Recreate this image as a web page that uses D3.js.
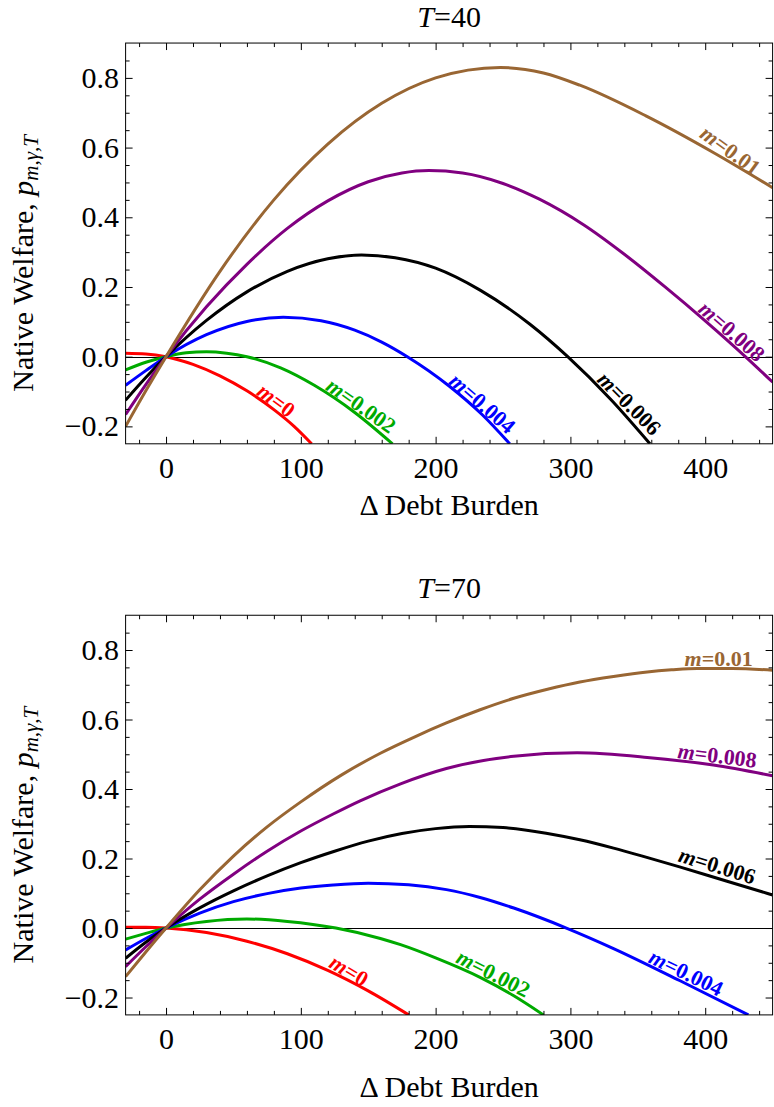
<!DOCTYPE html>
<html><head><meta charset="utf-8">
<script src="https://cdn.jsdelivr.net/npm/d3@7"></script>
<style>
html,body{margin:0;padding:0;background:#fff;}
svg{display:block;}
text{font-family:"Liberation Serif","Times New Roman",serif;fill:#000;}
</style></head><body>
<svg id="chart" width="774" height="1107"></svg>
<script>
// ---------- data ----------
const xDomain = [-30, 450];
const yDomain = [-0.25, 0.9];
const xMajorTicks = [0, 100, 200, 300, 400];
const xMinorTicks = [-20, 20, 40, 60, 80, 120, 140, 160, 180, 220, 240, 260, 280, 320, 340, 360, 380, 420, 440];
const yMajorTicks = [-0.2, 0, 0.2, 0.4, 0.6, 0.8];
const yMajorLabels = ["\u22120.2", "0.0", "0.2", "0.4", "0.6", "0.8"];
const yMinorTicks = [-0.15, -0.1, -0.05, 0.05, 0.1, 0.15, 0.25, 0.3, 0.35, 0.45, 0.5, 0.55, 0.65, 0.7, 0.75, 0.85];
const mLabels = ["0", "0.002", "0.004", "0.006", "0.008", "0.01"];
const panelTitles = ["40", "70"];
const xAxisTitle = "\u0394 Debt Burden";
const yAxisTitle = "Native Welfare, ";

// T = 40
const T40_m0    = [[-30,0.010],[-15,0.008],[0,0],[20,-0.022],[40,-0.055],[60,-0.098],[80,-0.152],[95,-0.200],[108,-0.25]];
const T40_m002  = [[-30,-0.038],[-15,-0.016],[0,0],[15,0.011],[30,0.014],[45,0.010],[60,0],[85,-0.032],[110,-0.082],[140,-0.160],[168,-0.25]];
const T40_m004  = [[-30,-0.082],[-15,-0.040],[0,0],[30,0.063],[60,0.101],[87,0.113],[115,0.103],[140,0.076],[160,0.042],[179,0],[210,-0.084],[235,-0.168],[255,-0.25]];
const T40_m006  = [[-30,-0.125],[-15,-0.060],[0,0],[30,0.104],[60,0.186],[90,0.245],[120,0.281],[145,0.292],[170,0.284],[200,0.254],[233,0.191],[270,0.093],[298,0],[330,-0.123],[359,-0.25]];
const T40_m008  = [[-30,-0.166],[-15,-0.080],[0,0],[30,0.143],[60,0.265],[90,0.368],[120,0.447],[150,0.502],[175,0.527],[195,0.534],[220,0.527],[250,0.497],[277,0.452],[310,0.378],[340,0.294],[370,0.201],[400,0.103],[431,-0.004],[450,-0.073]];
const T40_m01   = [[-30,-0.200],[-15,-0.098],[0,0],[40,0.245],[80,0.450],[120,0.610],[160,0.727],[200,0.800],[248,0.830],[280,0.814],[307,0.779],[356,0.691],[406,0.586],[450,0.485]];
// label anchor (data x, data y) and angle (deg)
const T40_labelX = [82, 145, 235, 344, 420, 419];
const T40_labelY = [-0.124, -0.139, -0.133, -0.133, 0.074, 0.593];
const T40_labelAngle = [37, 35, 41, 45, 41, 36];

// T = 70
const T70_m0    = [[-30,0.002],[-15,0.002],[0,0],[30,-0.013],[60,-0.038],[90,-0.074],[120,-0.122],[150,-0.181],[180,-0.25]];
const T70_m002  = [[-30,-0.032],[-15,-0.0155],[0,0],[30,0.019],[60,0.026],[90,0.019],[126,0],[159,-0.030],[174,-0.048],[200,-0.086],[233,-0.142],[258,-0.195],[280,-0.25]];
const T70_m004  = [[-30,-0.063],[-15,-0.030],[0,0],[25,0.043],[50,0.076],[75,0.099],[100,0.115],[124,0.124],[150,0.129],[180,0.1245],[208,0.1105],[233,0.088],[258,0.0575],[297,0],[332,-0.059],[381,-0.151],[432,-0.25]];
const T70_m006  = [[-30,-0.087],[-15,-0.041],[0,0],[25,0.058],[50,0.107],[75,0.150],[100,0.188],[125,0.221],[150,0.250],[175,0.272],[200,0.286],[225,0.292],[250,0.289],[282,0.273],[307,0.254],[332,0.230],[356,0.204],[381,0.176],[415,0.136],[450,0.095]];
const T70_m008  = [[-30,-0.111],[-15,-0.054],[0,0],[25,0.083],[50,0.155],[75,0.221],[100,0.279],[124,0.328],[144,0.366],[174,0.415],[208,0.459],[258,0.494],[305,0.504],[357,0.491],[406,0.469],[450,0.438]];
const T70_m01   = [[-30,-0.140],[-15,-0.069],[0,0],[25,0.110],[50,0.207],[75,0.291],[100,0.363],[130,0.440],[159,0.503],[185,0.551],[208,0.590],[233,0.628],[258,0.661],[283,0.687],[307,0.708],[332,0.724],[357,0.737],[375,0.743],[394,0.747],[420,0.747],[450,0.742]];
const T70_labelX = [136, 243, 386, 409, 409, 410];
const T70_labelY = [-0.121, -0.129, -0.127, 0.181, 0.498, 0.777];
const T70_labelAngle = [31, 27, 26, 17, 7, 0];

// ---------- styles / layout ----------
const colors = ["#ff0000", "#00aa00", "#0000ff", "#000000", "#800080", "#996633"];
const layout = [
  {left:125.6, right:772.6, top:43.05, bottom:443.8, titleY:27, xTitleY:515},
  {left:125.6, right:772.6, top:615.25, bottom:1014.9, titleY:598, xTitleY:1097}
];
const panels = [
  {title: panelTitles[0], series:[T40_m0,T40_m002,T40_m004,T40_m006,T40_m008,T40_m01], lx:T40_labelX, ly:T40_labelY, la:T40_labelAngle},
  {title: panelTitles[1], series:[T70_m0,T70_m002,T70_m004,T70_m006,T70_m008,T70_m01], lx:T70_labelX, ly:T70_labelY, la:T70_labelAngle}
];

const svg = d3.select("#chart");
const FS = 30;

panels.forEach((p, pi) => {
  const L = layout[pi];
  const x = d3.scaleLinear().domain(xDomain).range([L.left, L.right]);
  const y = d3.scaleLinear().domain(yDomain).range([L.bottom, L.top]);
  const g = svg.append("g");

  const clipId = "clip" + pi;
  svg.append("clipPath").attr("id", clipId).append("rect")
    .attr("x", L.left).attr("y", L.top).attr("width", L.right - L.left).attr("height", L.bottom - L.top);

  // zero axis line
  g.append("line").attr("x1", L.left).attr("x2", L.right)
    .attr("y1", Math.round(y(0)) + 0.5).attr("y2", Math.round(y(0)) + 0.5)
    .attr("stroke", "#000").attr("stroke-width", 1);

  // curves
  const line = d3.line().x(d => x(d[0])).y(d => y(d[1])).curve(d3.curveMonotoneX);
  const cg = g.append("g").attr("clip-path", `url(#${clipId})`);
  p.series.forEach((s, i) => {
    cg.append("path").attr("d", line(s)).attr("fill", "none")
      .attr("stroke", colors[i]).attr("stroke-width", 3).attr("stroke-linecap", "butt");
  });

  // axes (inward ticks)
  function styleAxis(sel) {
    sel.select(".domain").remove();
    sel.selectAll(".tick line").attr("stroke", "#000").attr("stroke-width", 1);
    sel.selectAll(".tick text").attr("font-size", FS).attr("font-family", '"Liberation Serif","Times New Roman",serif').attr("fill", "#000");
  }
  const bx = L.bottom, tx = L.top, lxp = L.left, rxp = L.right;
  g.append("g").attr("transform", `translate(0,${bx})`)
    .call(d3.axisBottom(x).tickValues(xMajorTicks).tickSizeInner(-7).tickSizeOuter(0).tickPadding(13).tickFormat(d3.format("d")))
    .call(styleAxis);
  g.append("g").attr("transform", `translate(0,${bx})`)
    .call(d3.axisBottom(x).tickValues(xMinorTicks).tickSizeInner(-4).tickSizeOuter(0).tickFormat(""))
    .call(styleAxis);
  g.append("g").attr("transform", `translate(0,${tx})`)
    .call(d3.axisTop(x).tickValues(xMajorTicks).tickSizeInner(-7).tickSizeOuter(0).tickFormat(""))
    .call(styleAxis);
  g.append("g").attr("transform", `translate(0,${tx})`)
    .call(d3.axisTop(x).tickValues(xMinorTicks).tickSizeInner(-4).tickSizeOuter(0).tickFormat(""))
    .call(styleAxis);
  g.append("g").attr("transform", `translate(${lxp},0)`)
    .call(d3.axisLeft(y).tickValues(yMajorTicks).tickSizeInner(-7).tickSizeOuter(0).tickPadding(6.5)
      .tickFormat((d, i) => yMajorLabels[i]))
    .call(styleAxis);
  g.append("g").attr("transform", `translate(${lxp},0)`)
    .call(d3.axisLeft(y).tickValues(yMinorTicks).tickSizeInner(-4).tickSizeOuter(0).tickFormat(""))
    .call(styleAxis);
  g.append("g").attr("transform", `translate(${rxp},0)`)
    .call(d3.axisRight(y).tickValues(yMajorTicks).tickSizeInner(-7).tickSizeOuter(0).tickFormat(""))
    .call(styleAxis);
  g.append("g").attr("transform", `translate(${rxp},0)`)
    .call(d3.axisRight(y).tickValues(yMinorTicks).tickSizeInner(-4).tickSizeOuter(0).tickFormat(""))
    .call(styleAxis);

  // frame
  g.append("rect").attr("x", L.left).attr("y", L.top)
    .attr("width", L.right - L.left).attr("height", L.bottom - L.top)
    .attr("fill", "none").attr("stroke", "#000").attr("stroke-width", 1);

  // curve labels
  p.series.forEach((s, i) => {
    const t = g.append("text")
      .attr("transform", `translate(${x(p.lx[i])},${y(p.ly[i])}) rotate(${p.la[i]})`)
      .attr("text-anchor", "middle").attr("dominant-baseline", "central")
      .attr("font-size", 22).attr("font-weight", "bold").style("fill", colors[i]);
    t.append("tspan").attr("font-style", "italic").text("m");
    t.append("tspan").text("=" + mLabels[i]);
  });

  // title
  const cx = (L.left + L.right) / 2;
  const tt = g.append("text").attr("x", cx).attr("y", L.titleY).attr("text-anchor", "middle").attr("font-size", FS);
  tt.append("tspan").attr("font-style", "italic").text("T");
  tt.append("tspan").text("=" + p.title);

  // x axis title
  g.append("text").attr("x", cx).attr("y", L.xTitleY).attr("text-anchor", "middle").attr("font-size", FS).text(xAxisTitle);

  // y axis title
  const cy = (L.top + L.bottom) / 2 + 20;
  const yt = g.append("text").attr("transform", `translate(33,${cy}) rotate(-90)`)
    .attr("text-anchor", "middle").attr("font-size", FS);
  yt.append("tspan").text(yAxisTitle);
  yt.append("tspan").attr("font-style", "italic").text("p");
  yt.append("tspan").attr("font-style", "italic").attr("font-size", 21).attr("dy", 5).text("m,\u03B3,T");
});
</script>
</body></html>
